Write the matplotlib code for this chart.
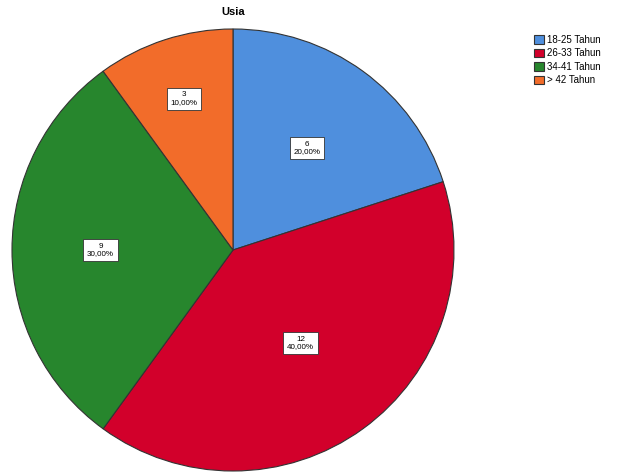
import matplotlib
matplotlib.use("Agg")
import matplotlib.pyplot as plt
import numpy as np

plt.rcParams['font.family'] = ['Liberation Sans', 'DejaVu Sans']

# data
categories = ["18-25 Tahun", "26-33 Tahun", "34-41 Tahun", "> 42 Tahun"]
counts = [6, 12, 9, 3]
percents = [20.00, 40.00, 30.00, 10.00]
colors = ["#4f8fdd", "#d2002b", "#27862d", "#f26c2a"]

# how far from the centre each value box sits (fraction of radius)
label_radius = [0.57, 0.52, 0.60, 0.72]

W, H = 621, 473
fig = plt.figure(figsize=(W / 100, H / 100), dpi=100)

# pie box in pixels: left 12, top 29, size 442
ax = fig.add_axes([12 / W, (H - 29 - 442) / H, 442 / W, 442 / H])
wedges, _ = ax.pie(counts, colors=colors, startangle=90, counterclock=False,
                   radius=1.0, wedgeprops=dict(edgecolor="#333333", linewidth=0.8))
ax.set_xlim(-1.0, 1.0)
ax.set_ylim(-1.0, 1.0)
ax.set_aspect('auto')
ax.axis('off')

for w, n, p, r in zip(wedges, counts, percents, label_radius):
    mid = np.deg2rad((w.theta1 + w.theta2) / 2)
    txt = f"{n}\n{p:.2f}%".replace(".", ",")
    ax.text(r * np.cos(mid), r * np.sin(mid), txt, ha='center', va='center',
            fontsize=5.8, linespacing=1.15,
            bbox=dict(boxstyle='square,pad=0.45', facecolor='white',
                      edgecolor='#333333', linewidth=0.6))

fig.text(233 / W, 1 - 12 / H, "Usia", ha='center', va='center',
         fontsize=8, fontweight='bold')

fig.legend(wedges, categories, loc='upper left',
           bbox_to_anchor=(534 / W, 1 - 35 / H), frameon=False,
           fontsize=7, handlelength=1.0, handleheight=0.95,
           handletextpad=0.35, labelspacing=0.35, borderpad=0, borderaxespad=0)

fig.savefig("out.png", dpi=100)
